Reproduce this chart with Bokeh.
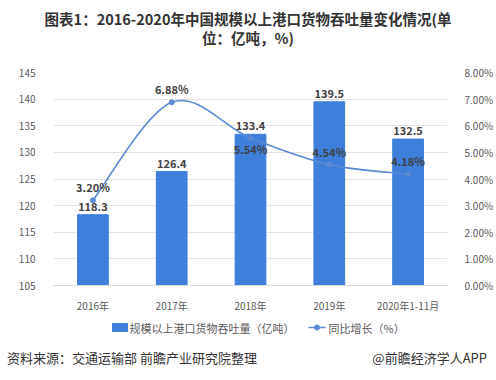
from bokeh.plotting import figure
from bokeh.models import (ColumnDataSource, Range1d, LinearAxis, FixedTicker, Label, LabelSet, Div)
from bokeh.layouts import column
from bokeh.embed import file_html
from bokeh.resources import INLINE
from bokeh.core.properties import value

categories = ["2016年", "2017年", "2018年", "2019年", "2020年1-11月"]
throughput = [118.3, 126.4, 133.4, 139.5, 132.5]
growth = [3.20, 6.88, 5.54, 4.54, 4.18]
left_ticks = [105, 110, 115, 120, 125, 130, 135, 140, 145]
right_ticks = [0, 1, 2, 3, 4, 5, 6, 7, 8]
series_names = ["规模以上港口货物吞吐量（亿吨）", "同比增长（%）"]
title_lines = ["图表1：2016-2020年中国规模以上港口货物吞吐量变化情况(单", "位：亿吨，%)"]
source_note = "资料来源：交通运输部 前瞻产业研究院整理"
brand_note = "@前瞻经济学人APP"

FONT = "Noto Sans CJK SC"
BAR = "#3d7fdb"
LINE = "#5a8ad2"
TXT = "#404040"
W = 496
LB, RB = 53, 49

# ---- title (HTML text)
title = Div(
    text=(f'<div style="width:{W}px;text-align:center;font-family:\'{FONT}\';'
          f'font-weight:bold;font-size:14.5px;line-height:19px;color:#333;padding-top:9px;">'
          f'{title_lines[0]}<br>{title_lines[1]}</div>'),
    width=W, height=55, margin=(0, 0, 0, 0))

# ---- main chart
xs = [i + 0.5 for i in range(len(categories))]

p = figure(width=W, height=260, output_backend="svg", toolbar_location=None,
           x_range=Range1d(0, len(categories)), y_range=Range1d(105, 145),
           min_border_left=LB, min_border_right=RB, min_border_top=17, min_border_bottom=23)
p.outline_line_color = None
p.extra_y_ranges = {"pct": Range1d(0, 8)}

p.xaxis.ticker = FixedTicker(ticks=xs)
p.xaxis.major_label_overrides = {x: c for x, c in zip(xs, categories)}
p.xaxis.major_tick_line_color = None
p.xaxis.minor_tick_line_color = None
p.xaxis.axis_line_color = "#d9d9d9"
p.xaxis.major_label_text_font = FONT
p.xaxis.major_label_text_font_size = "10px"
p.xaxis.major_label_text_color = "#595959"
p.xaxis.major_label_standoff = 6

p.yaxis.ticker = FixedTicker(ticks=left_ticks)
p.yaxis.axis_line_color = None
p.yaxis.major_tick_line_color = None
p.yaxis.minor_tick_line_color = None
p.yaxis.major_label_text_font = FONT
p.yaxis.major_label_text_font_size = "10px"
p.yaxis.major_label_text_color = "#595959"
p.yaxis.major_label_standoff = 12

ra = LinearAxis(y_range_name="pct", ticker=FixedTicker(ticks=right_ticks))
ra.major_label_overrides = {t: f"{t:.2f}%" for t in right_ticks}
ra.axis_line_color = None
ra.major_tick_line_color = None
ra.minor_tick_line_color = None
ra.major_label_text_font = FONT
ra.major_label_text_font_size = "10px"
ra.major_label_text_color = "#595959"
ra.major_label_standoff = 11
p.add_layout(ra, "right")

p.xgrid.grid_line_color = None
p.ygrid.grid_line_color = "#e3e3e3"
p.ygrid.ticker = FixedTicker(ticks=left_ticks)

src = ColumnDataSource(dict(x=xs, v=throughput, g=growth,
                            vl=[f"{v:.1f}" for v in throughput]))

p.vbar(x="x", top="v", bottom=105, width=0.39, color=BAR, source=src)

# smooth curve (Catmull-Rom -> cubic Bezier) derived from the data points
n = len(xs)
x0, y0, x1, y1, cx0, cy0, cx1, cy1 = ([] for _ in range(8))
for i in range(n - 1):
    pm = (xs[max(i - 1, 0)], growth[max(i - 1, 0)])
    pa = (xs[i], growth[i])
    pb = (xs[i + 1], growth[i + 1])
    pn = (xs[min(i + 2, n - 1)], growth[min(i + 2, n - 1)])
    x0.append(pa[0]); y0.append(pa[1]); x1.append(pb[0]); y1.append(pb[1])
    cx0.append(pa[0] + (pb[0] - pm[0]) / 6); cy0.append(pa[1] + (pb[1] - pm[1]) / 6)
    cx1.append(pb[0] - (pn[0] - pa[0]) / 6); cy1.append(pb[1] - (pn[1] - pa[1]) / 6)
p.bezier(x0=x0, y0=y0, x1=x1, y1=y1, cx0=cx0, cy0=cy0, cx1=cx1, cy1=cy1,
         line_color=LINE, line_width=1.6, y_range_name="pct")
p.scatter(x="x", y="g", source=src, size=5, color=LINE, y_range_name="pct")

bl = LabelSet(x="x", y="v", text="vl", source=src, y_offset=4, text_align="center",
              text_baseline="bottom", text_font=value(FONT), text_font_size="11px",
              text_font_style="bold", text_color=TXT)
p.add_layout(bl)

offs = [5, 5, -19, 5, 5]
for x, g, o in zip(xs, growth, offs):
    p.add_layout(Label(x=x, y=g, y_range_name="pct", text=f"{g:.2f}%", y_offset=o,
                       text_align="center", text_baseline="bottom", text_font=FONT,
                       text_font_size="11px", text_font_style="bold", text_color=TXT))

# ---- legend strip (frame aligned with the chart frame; x in page pixels)
lf = figure(width=W, height=25, output_backend="svg", toolbar_location=None,
            x_range=Range1d(LB, W - RB), y_range=Range1d(25, 0),
            min_border_left=LB, min_border_right=RB, min_border_top=0, min_border_bottom=0)
lf.axis.visible = False
lf.grid.visible = False
lf.outline_line_color = None
lf.rect(x=[119.5], y=[12], width=15, height=8, color=BAR)
lf.text(x=[129], y=[12], text=[series_names[0]], text_align="left", text_baseline="middle",
        text_font=value(FONT), text_font_size="11px", text_color="#595959")
lf.line(x=[308, 325], y=[12, 12], line_color=LINE, line_width=1.6)
lf.scatter(x=[316.5], y=[12], size=5, color=LINE)
lf.text(x=[328], y=[12], text=[series_names[1]], text_align="left", text_baseline="middle",
        text_font=value(FONT), text_font_size="11px", text_color="#595959")

# ---- footer (HTML text)
footer = Div(
    text=(f'<div style="width:{W - 9}px;display:flex;justify-content:space-between;'
          f'padding-left:7px;padding-top:9px;font-family:\'{FONT}\';font-size:13px;'
          f'line-height:18px;color:#333;"><span>{source_note}</span>'
          f'<span>{brand_note}</span></div>'),
    width=W, height=40, margin=(0, 0, 0, 0))

layout = column(title, p, lf, footer, spacing=0)
open("out.html", "w").write(file_html(layout, INLINE))
